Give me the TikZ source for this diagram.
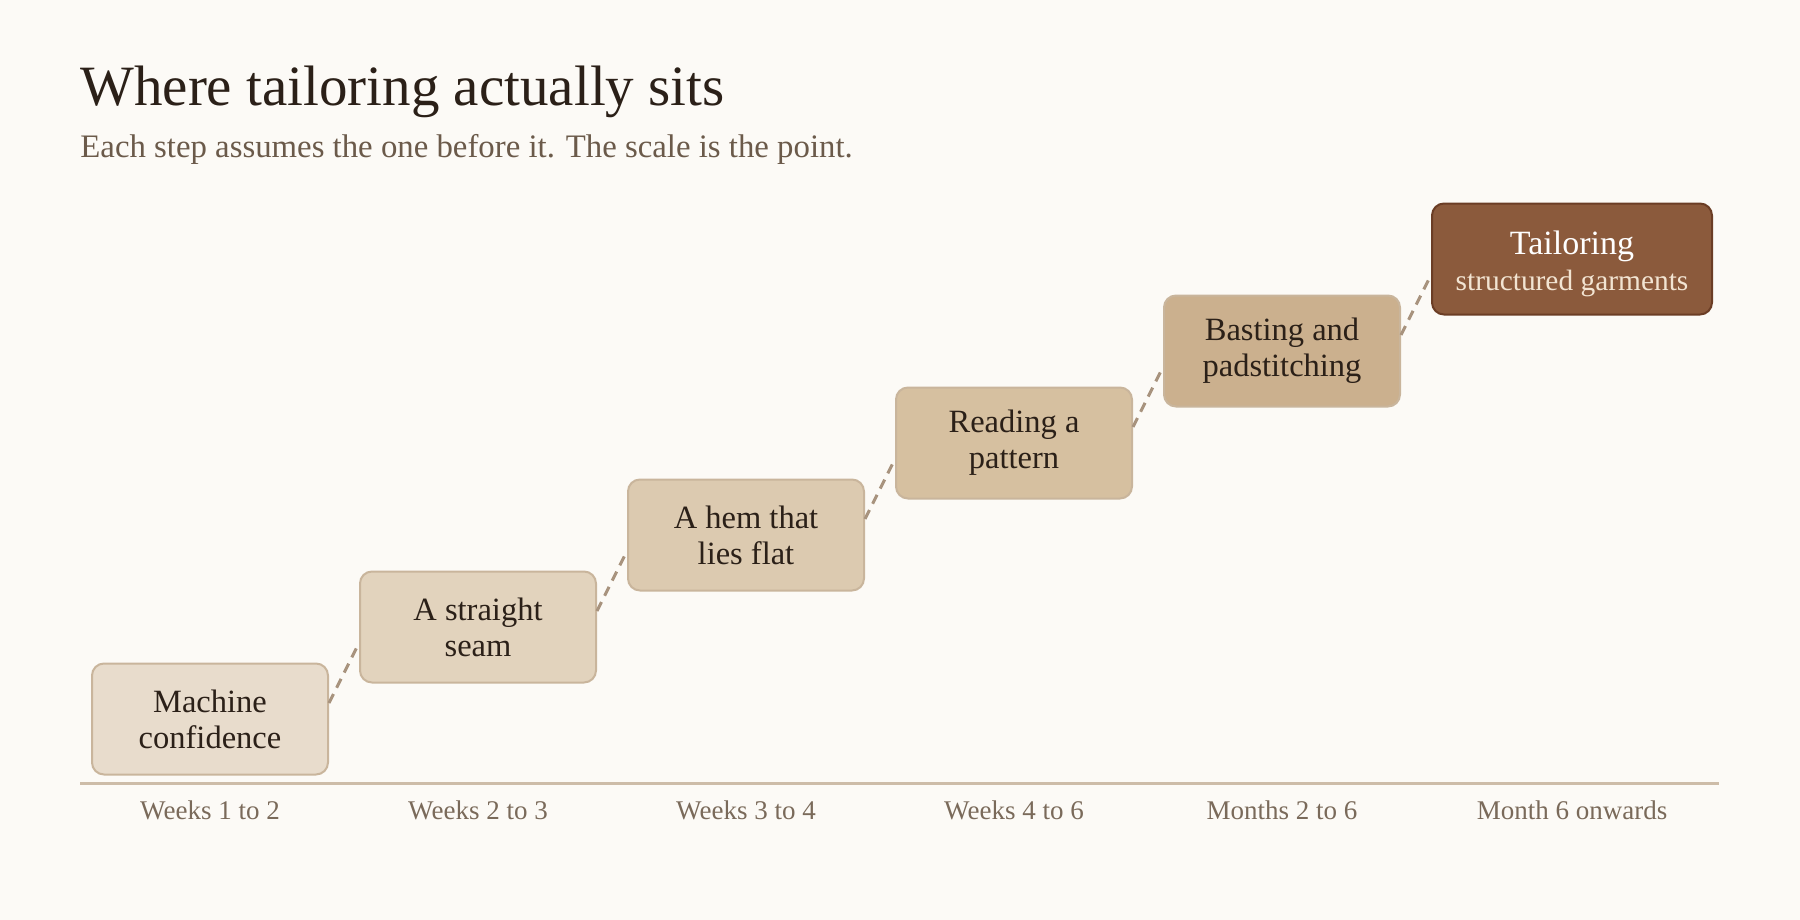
\documentclass[tikz,border=0pt]{standalone}
\usepackage{fontspec}
\setmainfont{Liberation Serif}
\usetikzlibrary{calc}
\definecolor{bg}{HTML}{FCFAF6}
\definecolor{ink}{HTML}{2B2018}
\definecolor{subink}{HTML}{6B5A4A}
\definecolor{lblink}{HTML}{7A6A5A}
\definecolor{axisc}{HTML}{CDBCA8}
\definecolor{dashc}{HTML}{A8937E}
\definecolor{bordc}{HTML}{C9B59C}
\definecolor{fa}{HTML}{E8DCCC}
\definecolor{fb}{HTML}{E2D3BD}
\definecolor{fc}{HTML}{DCCAB0}
\definecolor{fd}{HTML}{D6C0A0}
\definecolor{fe}{HTML}{CBB08E}
\definecolor{ff}{HTML}{8B5A3C}
\definecolor{ffb}{HTML}{6B3D25}
\definecolor{cream}{HTML}{F2E4D2}
\tikzset{
  stepbox/.style={draw=bordc, line width=1pt, rounded corners=6pt, minimum width=118pt, minimum height=55.5pt, align=center, text=ink, font=\fontsize{16.25}{18}\selectfont, inner sep=0pt},
  topbox/.style={stepbox, draw=ffb, fill=ff, minimum width=140pt, text=white},
  link/.style={draw=dashc, line width=1.5pt, dash pattern=on 5pt off 3.5pt},
  when/.style={anchor=base, text=lblink, font=\fontsize{13.5}{16}\selectfont},
}
\begin{document}
\begin{tikzpicture}[x=0.5pt,y=-0.5pt]
\useasboundingbox[fill=bg] (0,0) rectangle (1800,920);
\node[anchor=base west, inner sep=0pt, text=ink, font=\fontsize{28.5}{32}\selectfont] (title) at (80,106) {Where tailoring actually sits};
\node[anchor=base west, inner sep=0pt, text=subink, font=\fontsize{16.4}{18}\selectfont] (sub) at (80,158) {Each step assumes the one before it. The scale is the point.};
\node[stepbox, fill=fa] (b1) at (210,719) {Machine\\confidence};
\node[stepbox, fill=fb] (b2) at (478,627) {A straight\\seam};
\node[stepbox, fill=fc] (b3) at (746,535) {A hem that\\lies flat};
\node[stepbox, fill=fd] (b4) at (1014,443) {Reading a\\pattern};
\node[stepbox, fill=fe] (b5) at (1282,351) {Basting and\\padstitching};
\node[topbox] (b6) at (1572,259) {};
\node[align=center, inner sep=0pt, text=white, font=\fontsize{17}{18}\selectfont] (b6t) at ($(b6.center)+(0,5)$) {Tailoring\\{\color{cream}\fontsize{14.7}{18}\selectfont structured garments}};
\foreach \a/\b in {b1/b2,b2/b3,b3/b4,b4/b5,b5/b6}{
  \draw[link] ($(\a.east)+(0,-16)$) -- ($(\b.west)+(0,16)$);
}
\coordinate (axl) at (80,783);
\coordinate (axr) at (1719,783);
\draw[axisc, line width=1.5pt] (axl) -- (axr);
\node[when] (w1) at (210,819) {Weeks 1 to 2};
\node[when] (w2) at (478,819) {Weeks 2 to 3};
\node[when] (w3) at (746,819) {Weeks 3 to 4};
\node[when] (w4) at (1014,819) {Weeks 4 to 6};
\node[when] (w5) at (1282,819) {Months 2 to 6};
\node[when] (w6) at (1572,819) {Month 6 onwards};
\end{tikzpicture}
\end{document}
